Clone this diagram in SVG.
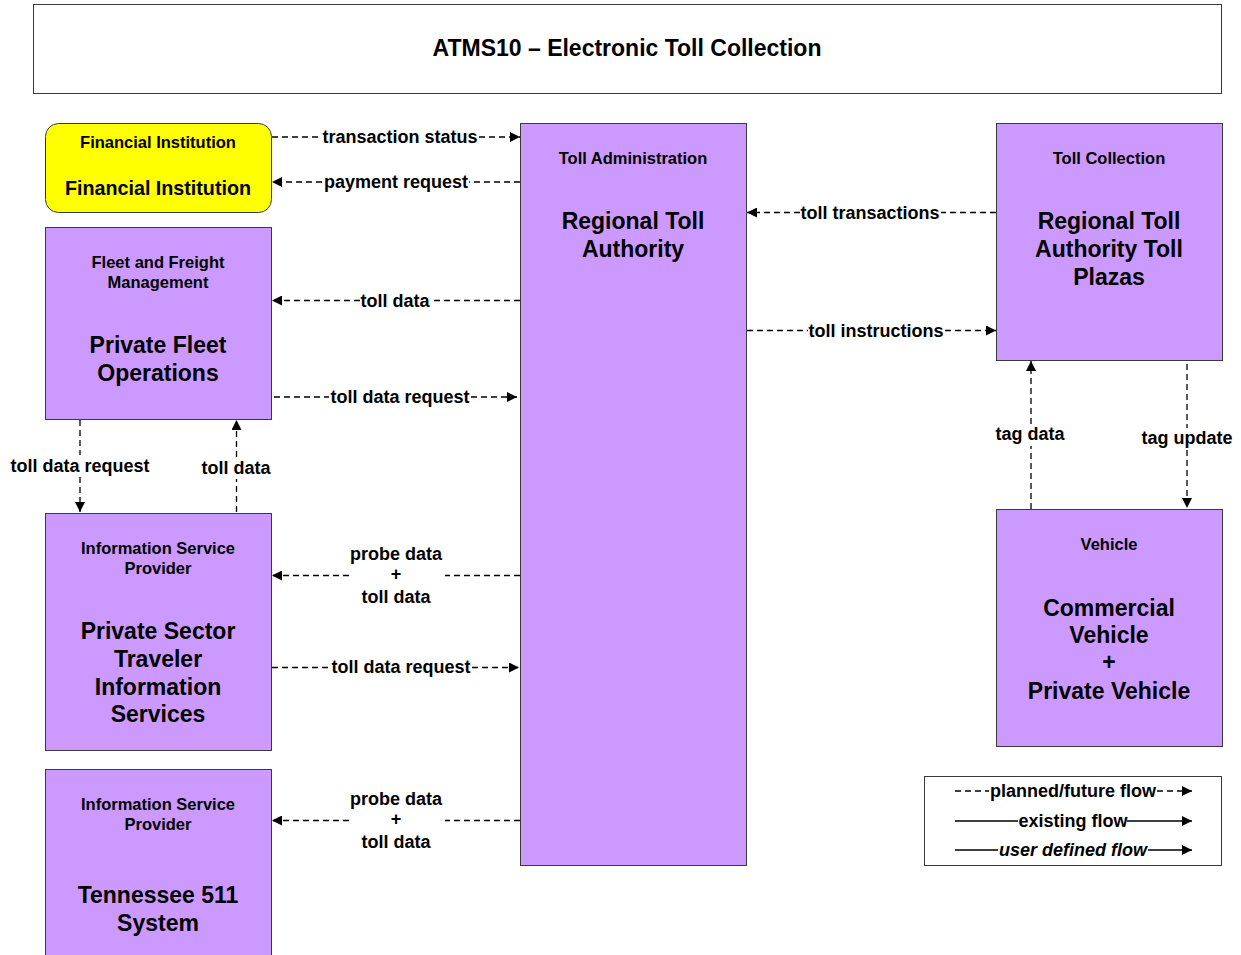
<svg xmlns="http://www.w3.org/2000/svg" width="1241" height="955" viewBox="0 0 1241 955">
  <style>
    .box { fill: #CC99FF; stroke: #3a3a3a; stroke-width: 1; }
    .fin { fill: #FFFF00; stroke: #3a3a3a; stroke-width: 1; }
    .frame { fill: #FFFFFF; stroke: #3a3a3a; stroke-width: 1; }
    text { font-family: "Liberation Sans", Arial, sans-serif; font-weight: bold; fill: #000; text-anchor: middle; }
    .cls { font-size: 16.5px; }
    .name { font-size: 23px; }
    .lbl { font-size: 18px; }
    .title { font-size: 23px; }
    .flow { fill: none; stroke: #000; stroke-width: 1.3; stroke-dasharray: 6,4; }
    .solid { fill: none; stroke: #000; stroke-width: 1.3; }
  </style>
  <defs>
    <marker id="arrow" viewBox="0 0 10 10" refX="10" refY="5" markerWidth="10" markerHeight="10" markerUnits="userSpaceOnUse" orient="auto">
      <path d="M0,0 L10,5 L0,10 z" fill="#000"/>
    </marker>
  </defs>

  <rect width="1241" height="955" fill="#FFFFFF"/>

  <!-- title -->
  <g id="title">
    <rect class="frame" x="33.5" y="4.5" width="1188" height="89"/>
    <text class="title" x="627" y="56">ATMS10 – Electronic Toll Collection</text>
  </g>

  <!-- nodes -->
  <g id="financial-institution">
    <rect class="fin" x="45.5" y="123.5" width="226" height="89" rx="13" ry="13"/>
    <text class="cls" x="158" y="148">Financial Institution</text>
    <text class="name" x="158" y="195" style="font-size:19.7px">Financial Institution</text>
  </g>

  <g id="private-fleet">
    <rect class="box" x="45.5" y="227.5" width="226" height="192"/>
    <text class="cls" x="158" y="268">Fleet and Freight</text>
    <text class="cls" x="158" y="288">Management</text>
    <text class="name" x="158" y="353">Private Fleet</text>
    <text class="name" x="158" y="381">Operations</text>
  </g>

  <g id="private-isp">
    <rect class="box" x="45.5" y="513.5" width="226" height="237"/>
    <text class="cls" x="158" y="554">Information Service</text>
    <text class="cls" x="158" y="574">Provider</text>
    <text class="name" x="158" y="639">Private Sector</text>
    <text class="name" x="158" y="667">Traveler</text>
    <text class="name" x="158" y="695">Information</text>
    <text class="name" x="158" y="722">Services</text>
  </g>

  <g id="tn511">
    <rect class="box" x="45.5" y="769.5" width="226" height="200"/>
    <text class="cls" x="158" y="810">Information Service</text>
    <text class="cls" x="158" y="830">Provider</text>
    <text class="name" x="158" y="903">Tennessee 511</text>
    <text class="name" x="158" y="931">System</text>
  </g>

  <g id="toll-authority">
    <rect class="box" x="520.5" y="123.5" width="226" height="742"/>
    <text class="cls" x="633" y="164">Toll Administration</text>
    <text class="name" x="633" y="229">Regional Toll</text>
    <text class="name" x="633" y="257">Authority</text>
  </g>

  <g id="toll-plazas">
    <rect class="box" x="996.5" y="123.5" width="226" height="237"/>
    <text class="cls" x="1109" y="164">Toll Collection</text>
    <text class="name" x="1109" y="229">Regional Toll</text>
    <text class="name" x="1109" y="257">Authority Toll</text>
    <text class="name" x="1109" y="285">Plazas</text>
  </g>

  <g id="vehicle">
    <rect class="box" x="996.5" y="509.5" width="226" height="237"/>
    <text class="cls" x="1109" y="550">Vehicle</text>
    <text class="name" x="1109" y="616">Commercial</text>
    <text class="name" x="1109" y="643">Vehicle</text>
    <text class="name" x="1109" y="670">+</text>
    <text class="name" x="1109" y="699">Private Vehicle</text>
  </g>

  <!-- connectors -->
  <g id="connectors">
    <path class="flow" d="M272,137 L322,137 M479,137 L520,137" marker-end="url(#arrow)"/>
    <text class="lbl" x="400" y="143">transaction status</text>

    <path class="flow" d="M520,182 L469,182 M322,182 L272,182" marker-end="url(#arrow)"/>
    <text class="lbl" x="396" y="188">payment request</text>

    <path class="flow" d="M520,300.5 L430,300.5 M360,300.5 L272,300.5" marker-end="url(#arrow)"/>
    <text class="lbl" x="395" y="307">toll data</text>

    <path class="flow" d="M274,397 L329,397 M471,397 L517,397" marker-end="url(#arrow)"/>
    <text class="lbl" x="400" y="403">toll data request</text>

    <path class="flow" d="M996,212.5 L941,212.5 M800,212.5 L747,212.5" marker-end="url(#arrow)"/>
    <text class="lbl" x="870" y="219">toll transactions</text>

    <path class="flow" d="M747,330.5 L808,330.5 M945,330.5 L996,330.5" marker-end="url(#arrow)"/>
    <text class="lbl" x="876" y="337">toll instructions</text>

    <path class="flow" d="M80,420 L80,455 M80,477 L80,512" marker-end="url(#arrow)"/>
    <text class="lbl" x="80" y="472">toll data request</text>

    <path class="flow" d="M236.5,512 L236.5,479 M236.5,457 L236.5,420" marker-end="url(#arrow)"/>
    <text class="lbl" x="236" y="474">toll data</text>

    <path class="flow" d="M520,575.5 L445,575.5 M349,575.5 L272,575.5" marker-end="url(#arrow)"/>
    <text class="lbl" x="396" y="560">probe data</text>
    <text class="lbl" x="396" y="580">+</text>
    <text class="lbl" x="396" y="603">toll data</text>

    <path class="flow" d="M272,667.5 L330,667.5 M472,667.5 L519,667.5" marker-end="url(#arrow)"/>
    <text class="lbl" x="401" y="673">toll data request</text>

    <path class="flow" d="M520,820.5 L445,820.5 M349,820.5 L272,820.5" marker-end="url(#arrow)"/>
    <text class="lbl" x="396" y="805">probe data</text>
    <text class="lbl" x="396" y="825">+</text>
    <text class="lbl" x="396" y="848">toll data</text>

    <path class="flow" d="M1031,509 L1031,446 M1031,424 L1031,361" marker-end="url(#arrow)"/>
    <text class="lbl" x="1030" y="440">tag data</text>

    <path class="flow" d="M1187,364 L1187,428 M1187,450 L1187,508" marker-end="url(#arrow)"/>
    <text class="lbl" x="1187" y="444">tag update</text>
  </g>

  <!-- legend -->
  <g id="legend">
    <rect class="frame" x="924.5" y="776.5" width="297" height="89"/>
    <path class="flow" d="M955,791 L989,791 M1157,791 L1192,791" marker-end="url(#arrow)"/>
    <text class="lbl" x="1073" y="797">planned/future flow</text>
    <path class="solid" d="M955,821 L1018,821 M1127,821 L1192,821" marker-end="url(#arrow)"/>
    <text class="lbl" x="1073" y="827">existing flow</text>
    <path class="solid" d="M955,850 L998,850 M1148,850 L1192,850" marker-end="url(#arrow)"/>
    <text class="lbl" x="1073" y="856" font-style="italic">user defined flow</text>
  </g>
</svg>
